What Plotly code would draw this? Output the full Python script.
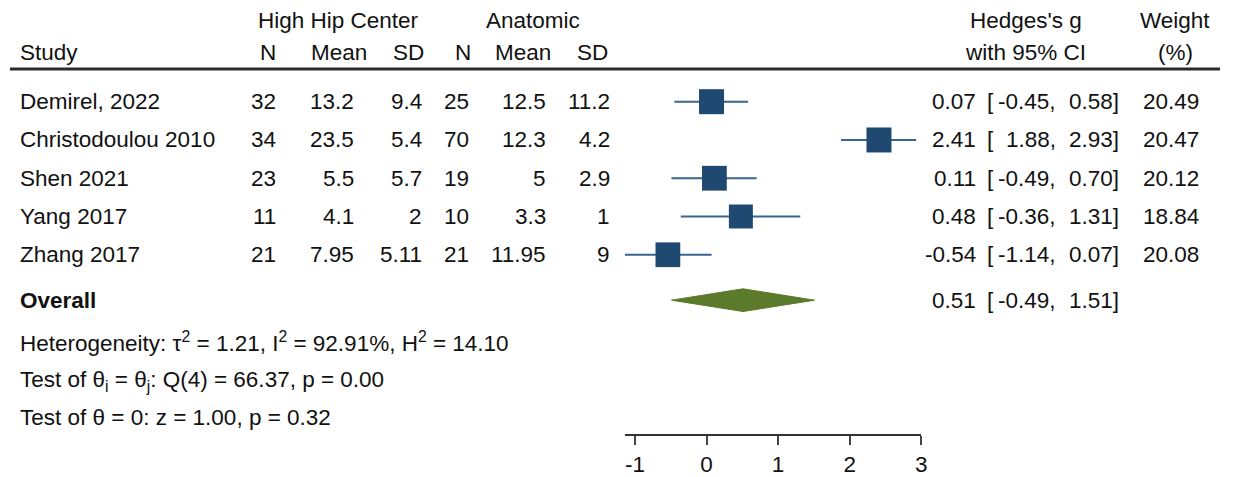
import plotly.graph_objects as go

# ---------------- data ----------------
studies = ["Demirel, 2022", "Christodoulou 2010", "Shen 2021", "Yang 2017", "Zhang 2017"]
hhc_n = [32, 34, 23, 11, 21]
hhc_mean = ["13.2", "23.5", "5.5", "4.1", "7.95"]
hhc_sd = ["9.4", "5.4", "5.7", "2", "5.11"]
ana_n = [25, 70, 19, 10, 21]
ana_mean = ["12.5", "12.3", "5", "3.3", "11.95"]
ana_sd = ["11.2", "4.2", "2.9", "1", "9"]
g = [0.07, 2.41, 0.11, 0.48, -0.54]
ci_lo = [-0.45, 1.88, -0.49, -0.36, -1.14]
ci_hi = [0.58, 2.93, 0.70, 1.31, 0.07]
weight = [20.49, 20.47, 20.12, 18.84, 20.08]
overall = 0.51
overall_lo = -0.49
overall_hi = 1.51
tick_vals = [-1, 0, 1, 2, 3]
het_lines = [
    "Heterogeneity: τ<sup>2</sup> = 1.21, I<sup>2</sup> = 92.91%, H<sup>2</sup> = 14.10",
    "Test of θ<sub>i</sub> = θ<sub>j</sub>: Q(4) = 66.37, p = 0.00",
    "Test of θ = 0: z = 1.00, p = 0.32",
]

# ---------------- layout constants ----------------
W, H = 1233, 477
FONT = "Liberation Sans, Arial, sans-serif"
FS = 22.5
TXT = "#111111"
SQ_COL = "#1f4970"
CI_COL = "#3a6590"
DIA_COL = "#5b7a2c"

row0, row_step = 103, 38.75
rows = [row0 + row_step * i for i in range(len(studies))]
y_overall = 304
het_y = [344, 382, 420]
het_shift = [-2, -4, -3]
y_head1, y_head2, y_rule = 21, 53, 70
axis_px = (628, 925.7)

def px(x):
    return x / W

fig = go.Figure()

# CI lines
xs, ys = [], []
for lo, hi, y in zip(ci_lo, ci_hi, rows):
    xs += [lo, hi, None]
    ys += [y, y, None]
fig.add_trace(go.Scatter(x=xs, y=ys, mode="lines",
                         line=dict(color=CI_COL, width=2), hoverinfo="skip",
                         showlegend=False, cliponaxis=False))

# squares (area proportional to weight)
sizes = [25 * (w / max(weight)) ** 0.5 for w in weight]
fig.add_trace(go.Scatter(x=g, y=rows, mode="markers",
                         marker=dict(symbol="square", size=sizes, color=SQ_COL,
                                     opacity=1, line=dict(width=0)),
                         showlegend=False, cliponaxis=False))

# overall diamond
dh = 11.5
fig.add_trace(go.Scatter(
    x=[overall_lo, overall, overall_hi, overall, overall_lo],
    y=[y_overall, y_overall - dh, y_overall, y_overall + dh, y_overall],
    mode="lines", fill="toself", fillcolor=DIA_COL,
    line=dict(color=DIA_COL, width=1), showlegend=False, cliponaxis=False))

ann = []

def text(x, y, s, anchor="left", bold=False, size=FS, yshift=0):
    ann.append(dict(x=px(x), y=y, xref="paper", yref="y", text=(f"<b>{s}</b>" if bold else s),
                    showarrow=False, xanchor=anchor, yanchor="middle", yshift=yshift,
                    font=dict(family=FONT, size=size, color=TXT)))

# headers
text(340, y_head1, "High Hip Center", "center")
text(536, y_head1, "Anatomic", "center")
text(1031, y_head1, "Hedges's g", "center")
text(1181, y_head1, "Weight", "center")
text(18, y_head2, "Study")
for xc, s in zip([269.5, 341, 410.5, 465, 525.5, 595.5], ["N", "Mean", "SD", "N", "Mean", "SD"]):
    text(xc, y_head2, s, "center")
text(1031, y_head2, "with 95% CI", "center")
text(1181, y_head2, "(%)", "center")

# study rows
for i, y in enumerate(rows):
    text(18, y, studies[i])
    text(279, y, str(hhc_n[i]), "right")
    text(358, y, hhc_mean[i], "right")
    text(426, y, hhc_sd[i], "right")
    text(473, y, str(ana_n[i]), "right")
    text(551, y, ana_mean[i], "right")
    text(615, y, ana_sd[i], "right")
    text(983, y, f"{g[i]:.2f}", "right")
    text(990, y, "[", "left")
    text(1063, y, f"{ci_lo[i]:.2f},", "right")
    text(1126, y, f"{ci_hi[i]:.2f}]", "right")
    text(1207, y, f"{weight[i]:.2f}", "right")

# overall
text(18, y_overall, "Overall", bold=True)
text(983, y_overall, f"{overall:.2f}", "right")
text(990, y_overall, "[", "left")
text(1063, y_overall, f"{overall_lo:.2f},", "right")
text(1126, y_overall, f"{overall_hi:.2f}]", "right")

for y, s, sh in zip(het_y, het_lines, het_shift):
    text(18, y, s, yshift=sh)

fig.update_layout(
    width=W, height=H, margin=dict(l=0, r=0, t=0, b=0),
    paper_bgcolor="white", plot_bgcolor="white",
    annotations=ann,
    shapes=[dict(type="line", xref="paper", yref="y", x0=px(10), x1=px(1226),
                 y0=y_rule, y1=y_rule, line=dict(color="#2a2a2a", width=3))],
    xaxis=dict(domain=[px(axis_px[0]), px(axis_px[1])],
               range=[min(ci_lo + [min(tick_vals)]), max(ci_hi + [max(tick_vals)])],
               tickvals=tick_vals, ticktext=[str(t) for t in tick_vals],
               ticks="outside", ticklen=9, tickwidth=1.5, tickcolor="#444",
               showline=True, linecolor="#333", linewidth=1.5,
               showgrid=False, zeroline=False,
               tickfont=dict(family=FONT, size=FS, color=TXT)),
    yaxis=dict(domain=[(H - 440) / H, 1], range=[440, 0], visible=False,
               showgrid=False, zeroline=False),
    showlegend=False,
)

fig.write_html("out.html")
